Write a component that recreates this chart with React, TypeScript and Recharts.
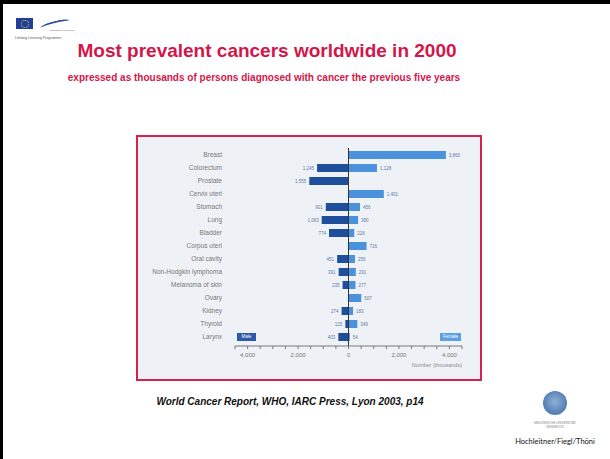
import React from 'react';
import { BarChart, Bar, XAxis, YAxis, ReferenceLine, LabelList, Label } from 'recharts';

// thousands of persons, 5-year prevalence, 2000
const cancers = [
  'Breast',
  'Colorectum',
  'Prostate',
  'Cervix uteri',
  'Stomach',
  'Lung',
  'Bladder',
  'Corpus uteri',
  'Oral cavity',
  'Non-Hodgkin lymphoma',
  'Melanoma of skin',
  'Ovary',
  'Kidney',
  'Thyroid',
  'Larynx',
];
const maleValues = [0, 1245, 1555, 0, 901, 1063, 774, 0, 451, 391, 235, 0, 274, 125, 403];
const femaleValues = [3860, 1128, 0, 1401, 456, 380, 226, 716, 256, 291, 277, 507, 183, 349, 54];
const xTicks = [-4500, -4000, -3500, -3000, -2500, -2000, -1500, -1000, -500, 0, 500, 1000, 1500, 2000, 2500, 3000, 3500, 4000, 4500];
const labelledTicks = [-4000, -2000, 0, 2000, 4000];

const data = cancers.map((name, i) => ({
  name,
  male: -maleValues[i],
  female: femaleValues[i],
}));

const MALE = '#1f4f9c';
const FEMALE = '#4a92dc';
const FONT = '"Liberation Sans", Arial, sans-serif';

const fmt = (v: number) => Math.abs(v).toLocaleString('en-US');

const valueLabel = (side: 'male' | 'female') => (props: any) => {
  const { x, y, width, height, value } = props;
  if (!value) return null;
  const left = Math.min(x, x + width);
  const right = Math.max(x, x + width);
  return (
    <text
      x={side === 'male' ? left - 3 : right + 3}
      y={y + height / 2}
      dy="0.35em"
      textAnchor={side === 'male' ? 'end' : 'start'}
      fontSize={4.5}
      fill="#5f7aa3"
      fontFamily={FONT}
    >
      {fmt(value)}
    </text>
  );
};

const XTick = (props: any) => {
  const { x, y, payload } = props;
  if (!labelledTicks.includes(payload.value)) return null;
  return (
    <text x={x} y={y} dy="0.75em" textAnchor="middle" fontSize={6} fill="#777" fontFamily={FONT}>
      {fmt(payload.value)}
    </text>
  );
};

const YTick = (props: any) => {
  const { x, y, payload } = props;
  return (
    <text x={x} y={y} dy="0.35em" textAnchor="end" fontSize={6.5} fill="#777" fontFamily={FONT}>
      {payload.value}
    </text>
  );
};

export default function App() {
  return (
    <div
      style={{
        position: 'absolute',
        left: 0,
        top: 0,
        width: 610,
        height: 459,
        background: '#fff',
        overflow: 'hidden',
        fontFamily: FONT,
      }}
    >
      {/* slide border */}
      <div style={{ position: 'absolute', left: 0, top: 0, width: 610, height: 4, background: '#000' }} />
      <div style={{ position: 'absolute', left: 0, top: 0, width: 3, height: 459, background: '#000' }} />

      {/* programme logo */}
      <div style={{ position: 'absolute', left: 16, top: 18, width: 17, height: 11, background: '#1f3f99' }}>
        <div
          style={{
            position: 'absolute',
            left: 5,
            top: 2,
            width: 6,
            height: 6,
            borderRadius: '50%',
            border: '1px dotted #f2d13a',
          }}
        />
      </div>
      <div
        style={{
          position: 'absolute',
          left: 40,
          top: 21,
          width: 30,
          height: 5,
          borderTop: '2px solid #2d4f9e',
          borderRadius: '50% 50% 0 0',
          transform: 'rotate(-14deg)',
        }}
      />
      <div style={{ position: 'absolute', left: 50, top: 29, fontSize: 2.5, color: '#667', whiteSpace: 'nowrap' }}>
        Education and Culture
      </div>
      <div style={{ position: 'absolute', left: 15, top: 36, fontSize: 3.5, color: '#556', whiteSpace: 'nowrap' }}>
        Lifelong Learning Programme
      </div>

      {/* titles */}
      <div
        style={{
          position: 'absolute',
          left: 0,
          top: 40,
          width: 534,
          textAlign: 'center',
          fontSize: 19,
          lineHeight: '22px',
          fontWeight: 'bold',
          color: '#d3164a',
        }}
      >
        Most prevalent cancers worldwide in 2000
      </div>
      <div
        style={{
          position: 'absolute',
          left: 0,
          top: 72,
          width: 528,
          textAlign: 'center',
          fontSize: 10,
          lineHeight: '12px',
          fontWeight: 'bold',
          color: '#d3164a',
        }}
      >
        expressed as thousands of persons diagnosed with cancer the previous five years
      </div>

      {/* chart frame */}
      <div
        style={{
          position: 'absolute',
          left: 136,
          top: 135,
          width: 346,
          height: 246,
          boxSizing: 'border-box',
          border: '2px solid #d6224f',
          background: '#eef2f6',
        }}
      >
        <BarChart
          width={342}
          height={242}
          data={data}
          layout="vertical"
          stackOffset="sign"
          margin={{ top: 11, right: 18, bottom: 3, left: 0 }}
        >
          <XAxis
            type="number"
            domain={[-4500, 4500]}
            ticks={xTicks}
            interval={0}
            allowDataOverflow
            axisLine={{ stroke: '#777', strokeWidth: 1 }}
            tickLine={{ stroke: '#777' }}
            tickSize={3}
            tickMargin={3}
            tick={<XTick />}
            height={30}
          >
            <Label
              value="Number (thousands)"
              position="insideBottomRight"
              offset={0}
              dy={-9}
              fontSize={5.5}
              fill="#8a8a8a"
            />
          </XAxis>
          <YAxis
            type="category"
            dataKey="name"
            width={97}
            axisLine={false}
            tickLine={false}
            tickSize={0}
            tickMargin={13}
            interval={0}
            padding={{ top: 0, bottom: 3 }}
            tick={<YTick />}
          />
          <Bar dataKey="male" stackId="a" fill={MALE} barSize={8} isAnimationActive={false}>
            <LabelList dataKey="male" content={valueLabel('male')} />
          </Bar>
          <Bar dataKey="female" stackId="a" fill={FEMALE} barSize={8} isAnimationActive={false}>
            <LabelList dataKey="female" content={valueLabel('female')} />
          </Bar>
          <ReferenceLine x={0} stroke="#333" strokeWidth={1} />
        </BarChart>

        {/* legend tags */}
        <div
          style={{
            position: 'absolute',
            left: 99,
            top: 196,
            width: 19,
            height: 8,
            background: '#2c5aa8',
            color: '#fff',
            fontSize: 4.5,
            lineHeight: '8px',
            textAlign: 'center',
          }}
        >
          Male
        </div>
        <div
          style={{
            position: 'absolute',
            left: 302,
            top: 196,
            width: 21,
            height: 8,
            background: '#5aa0e2',
            color: '#fff',
            fontSize: 4.5,
            lineHeight: '8px',
            textAlign: 'center',
          }}
        >
          Female
        </div>
      </div>

      {/* source */}
      <div
        style={{
          position: 'absolute',
          left: 0,
          top: 396,
          width: 580,
          textAlign: 'center',
          fontSize: 10,
          lineHeight: '12px',
          fontWeight: 'bold',
          fontStyle: 'italic',
          color: '#111',
        }}
      >
        World Cancer Report, WHO, IARC Press, Lyon 2003, p14
      </div>

      {/* university seal */}
      <div
        style={{
          position: 'absolute',
          left: 543,
          top: 391,
          width: 24,
          height: 24,
          borderRadius: '50%',
          background: 'radial-gradient(circle at 50% 45%, #8fb0d6 0%, #5a84b8 60%, #46709f 100%)',
        }}
      />
      <div
        style={{
          position: 'absolute',
          left: 515,
          top: 421,
          width: 80,
          textAlign: 'center',
          fontSize: 3,
          lineHeight: '4px',
          color: '#888',
          whiteSpace: 'nowrap',
        }}
      >
        MEDIZINISCHE UNIVERSITÄT
        <br />
        INNSBRUCK
      </div>
      <div
        style={{
          position: 'absolute',
          left: 505,
          top: 437,
          width: 100,
          textAlign: 'center',
          fontSize: 7.5,
          lineHeight: '10px',
          color: '#111',
          fontFamily: 'Lato, "Open Sans", sans-serif',
          whiteSpace: 'nowrap',
        }}
      >
        Hochleitner/Fiegl/Thöni
      </div>
    </div>
  );
}
